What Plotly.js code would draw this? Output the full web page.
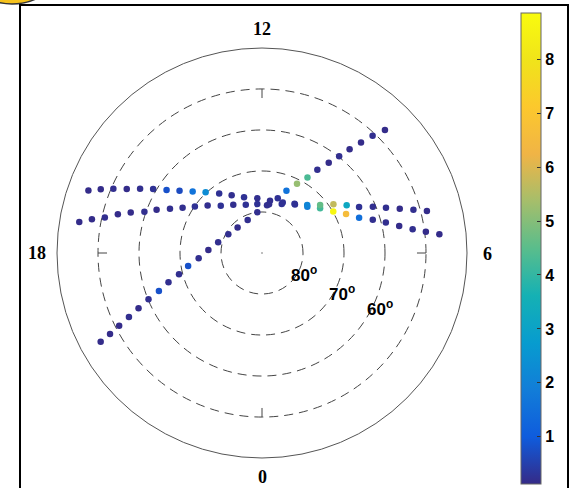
<!DOCTYPE html>
<html><head><meta charset="utf-8">
<script src="https://cdn.plot.ly/plotly-3.0.1.min.js"></script>
<style>html,body{margin:0;padding:0;background:#fff;}#chart{width:574px;height:488px;}</style>
</head><body><div id="chart"></div>
<script>
// Track 1 (MLT hours, magnetic latitude deg, value)
const mlt1 = [16.68,16.56,16.44,16.31,16.15,15.97,15.77,15.53,15.23,14.86,14.38,13.85,13.19,12.33,11.42,10.51,9.72,9.04,8.51,8.01,7.66,7.33,7.11,6.92,6.74,6.60,6.49,6.40];
const lat1 = [45.0,47.7,50.5,53.5,56.4,59.2,62.1,64.8,67.4,69.8,72.1,74.1,75.7,76.6,77.1,76.7,75.7,74.2,72.1,69.9,67.4,64.8,61.8,58.9,55.9,52.8,49.7,46.5];
const val1 = [0.15,0.15,0.2,0.15,0.2,0.25,0.8,0.7,1.6,2.3,0.25,0.2,0.25,0.2,0.2,0.25,0.25,1.9,4.2,8.7,6.6,1.5,0.2,0.2,0.15,0.2,0.15,0.15];
// Track 2
const mlt2 = [17.36,17.25,17.15,17.00,16.86,16.71,16.51,16.29,16.02,15.69,15.26,14.74,14.05,13.24,12.37,11.45,10.54,9.77,9.12,8.64,8.29,7.96,7.69,7.51,7.34,7.19,7.06,6.95];
const lat2 = [44.8,47.7,50.7,53.6,56.5,59.6,62.2,65.1,67.7,70.1,72.4,74.7,76.3,77.6,78.0,78.0,77.1,75.6,73.9,71.6,68.9,66.3,63.8,60.7,57.8,54.7,51.6,48.5];
const val2 = [0.15,0.15,0.2,0.15,0.15,0.2,0.15,0.2,0.2,0.25,0.2,0.25,0.2,0.25,0.25,0.2,0.25,0.25,2.1,4.6,5.7,3.2,0.25,0.2,0.2,0.15,0.2,0.15];
// Track 3
const mlt3 = [19.92,19.87,19.80,19.71,19.61,19.48,19.35,19.16,18.96,18.67,18.32,17.79,17.09,16.06,14.92,13.56,12.44,11.60,10.93,10.57,10.21,9.93,9.76,9.57,9.43,9.32,9.21,9.11,9.00];
const lat3 = [45.1,48.0,50.9,54.0,57.0,60.1,63.2,66.1,69.1,71.7,74.5,76.9,79.0,80.6,81.4,81.2,80.0,78.3,76.1,73.7,71.1,68.5,65.6,62.6,59.8,56.9,53.8,50.7,47.6];
const val3 = [0.15,0.15,0.15,0.2,0.15,0.2,0.8,0.2,0.2,0.8,0.2,0.15,0.2,0.2,0.15,0.2,0.2,0.2,0.25,1.6,5.2,4.3,0.2,0.15,0.2,0.15,0.15,0.2,0.15];

const cbTicks = [1,2,3,4,5,6,7,8];
const cMin = 0.12, cMax = 8.85;
const latRings = [80,70,60,50];
const latLabels = ['80','70','60'];
const mltLabels = ['12','18','6','0'];

const parula = [
  [0.0,'rgb(53,42,135)'],[0.1,'rgb(15,92,221)'],[0.2,'rgb(18,125,216)'],
  [0.3,'rgb(7,156,207)'],[0.4,'rgb(21,177,180)'],[0.5,'rgb(89,189,140)'],
  [0.6,'rgb(165,190,107)'],[0.7,'rgb(240,180,70)'],[0.8,'rgb(252,200,45)'],
  [0.9,'rgb(240,228,26)'],[1.0,'rgb(249,251,14)']
];

const toR = lats => lats.map(v => 90 - v);
const toT = mlts => mlts.map(v => v * 15);

// small inward ticks on the 50 deg ring at 0/6/12/18 MLT
const tr = [], tt = [];
[0,90,180,270].forEach(a => { tr.push(40, 37.8, null); tt.push(a, a, null); });

const mk = (m, l, v) => ({
  type: 'scatterpolar', mode: 'markers', r: toR(l), theta: toT(m),
  marker: {size: 6.5, color: v, coloraxis: 'coloraxis'}, hoverinfo: 'skip', showlegend: false
});

const data = [
  {type:'scatterpolar', mode:'lines', r: tr, theta: tt, line:{color:'#444', width:1}, showlegend:false, hoverinfo:'skip'},
  {type:'scatterpolar', mode:'markers', r:[0], theta:[0], marker:{size:2, color:'#aaa'}, showlegend:false, hoverinfo:'skip'},
  mk(mlt1, lat1, val1), mk(mlt2, lat2, val2), mk(mlt3, lat3, val3)
];

const W = 574, H = 488;
const px = x => x / W, py = y => (H - y) / H;
const serif = {family:'"Liberation Serif", "Times New Roman", serif', size:18, color:'#000', weight:'bold'};
const sans = {family:'"Liberation Sans", Arial, sans-serif', size:17, color:'#000', weight:'bold'};

const annotations = [
  {text: mltLabels[0], x: px(262), y: py(29)},
  {text: mltLabels[1], x: px(37), y: py(253)},
  {text: mltLabels[2], x: px(487), y: py(254)},
  {text: mltLabels[3], x: px(262), y: py(477)}
].map(a => Object.assign(a, {xref:'paper', yref:'paper', showarrow:false, xanchor:'center', yanchor:'middle', font: serif}));
[[304,274],[342,293],[380,308]].forEach((p, i) => annotations.push({
  text: latLabels[i] + '<sup>o</sup>', x: px(p[0]), y: py(p[1]), xref:'paper', yref:'paper',
  showarrow:false, xanchor:'center', yanchor:'middle', font: sans
}));

const layout = {
  width: W, height: H, autosize: false,
  margin: {l:0, r:0, t:0, b:0},
  paper_bgcolor: '#fff',
  polar: {
    domain: {x: [57/W, 467/W], y: [30/H, 440/H]},
    bgcolor: '#fff',
    radialaxis: {range: [0, 50], tickvals: latRings.map(v => 90 - v).filter(v => v < 50), showticklabels: false,
      ticks: '', showline: false, showgrid: true, gridcolor: '#444', gridwidth: 1, griddash: '9px,6px'},
    angularaxis: {rotation: -90, direction: 'counterclockwise', showgrid: false, showticklabels: false,
      ticks: '', showline: true, linecolor: '#555', linewidth: 1}
  },
  coloraxis: {
    cmin: cMin, cmax: cMax, colorscale: parula,
    colorbar: {x: 520.5/W, xanchor: 'left', xpad: 0, ypad: 0, thickness: 20, thicknessmode: 'pixels',
      len: 471/H, lenmode: 'fraction', y: py(13.3), yanchor: 'top',
      outlinewidth: 1, outlinecolor: '#666', ticks: 'inside', ticklen: 4, tickcolor: '#333',
      tickvals: cbTicks, tickfont: {family:'"Liberation Sans", Arial, sans-serif', size: 16, color:'#000', weight:'bold'}}
  },
  shapes: [
    {type:'circle', xref:'paper', yref:'paper', x0: px(-45), x1: px(69), y0: py(4), y1: py(-110),
      fillcolor:'#f6c21c', line:{color:'#333', width:1.5}, layer:'below'},
    {type:'rect', xref:'paper', yref:'paper', x0: px(20), x1: px(568), y0: py(5), y1: py(520),
      line:{color:'#000', width:2}, fillcolor:'rgba(0,0,0,0)'}
  ],
  annotations: annotations
};

Plotly.newPlot('chart', data, layout, {displayModeBar: false, staticPlot: true});
</script>
</body></html>
